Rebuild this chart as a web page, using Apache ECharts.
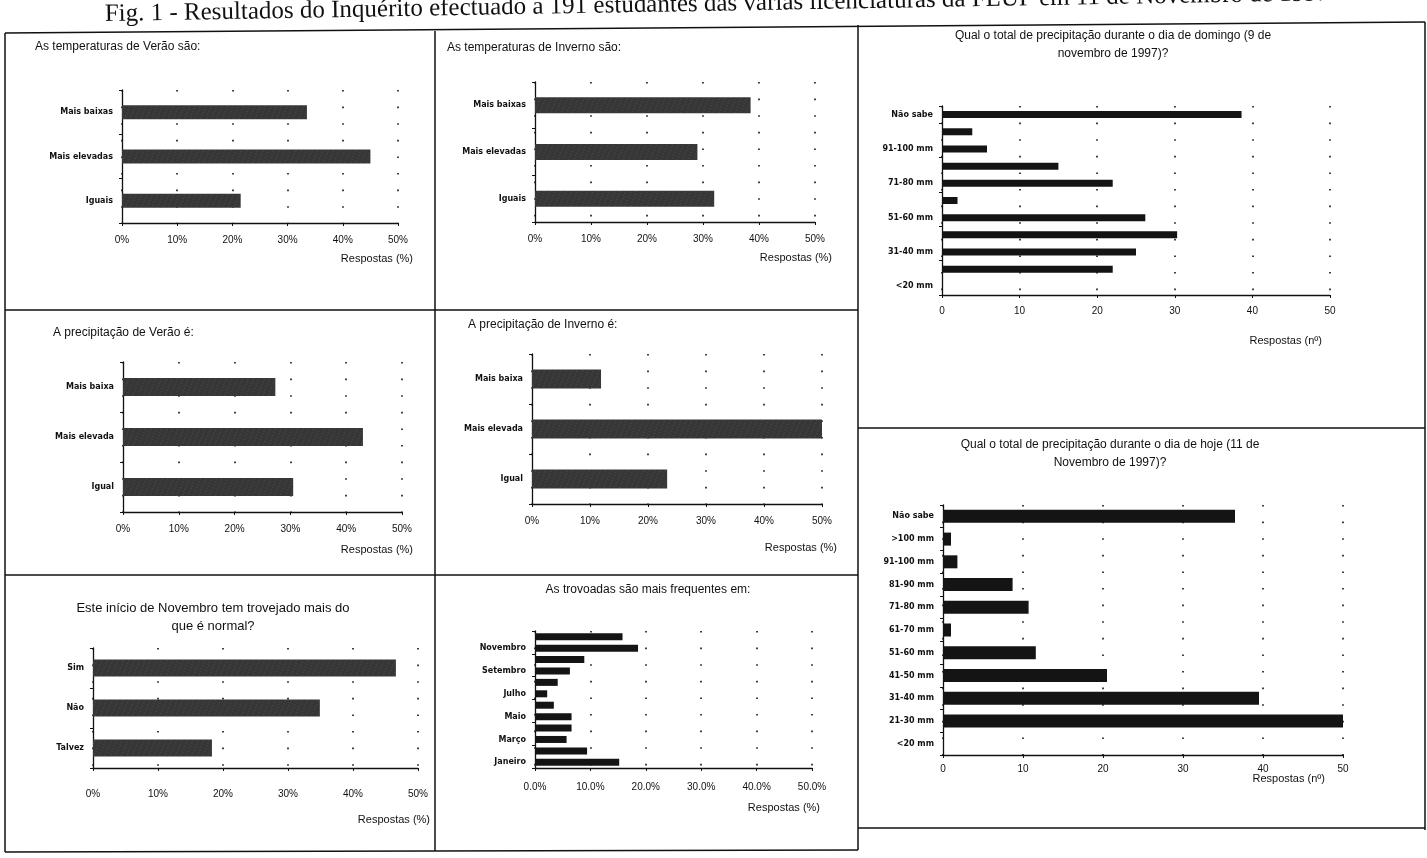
<!DOCTYPE html>
<html lang="pt">
<head>
<meta charset="UTF-8" />
<title>Fig. 1 - Inquérito FLUP</title>
<script src="https://cdn.jsdelivr.net/npm/echarts@6/dist/echarts.min.js"></script>
</head>
<body style="margin:0;background:#fff">
<div id="main" style="width:1427px;height:858px"></div>
<script>
// categories are listed bottom -> top (order of the y axis)
const catTempVerao = ["Iguais", "Mais elevadas", "Mais baixas"];
const valTempVerao = [21.5, 45, 33.5];
const catTempInverno = ["Iguais", "Mais elevadas", "Mais baixas"];
const valTempInverno = [32, 29, 38.5];
const catPrecVerao = ["Igual", "Mais elevada", "Mais baixa"];
const valPrecVerao = [30.5, 43, 27.3];
const catPrecInverno = ["Igual", "Mais elevada", "Mais baixa"];
const valPrecInverno = [23.3, 50, 11.9];
const catTrovejou = ["Talvez", "Não", "Sim"];
const valTrovejou = [18.3, 34.9, 46.6];
const catMeses = ["Janeiro", "Fevereiro", "Março", "Abril", "Maio", "Junho",
  "Julho", "Agosto", "Setembro", "Outubro", "Novembro", "Dezembro"];
const valMeses = [15.2, 9.4, 5.7, 6.6, 6.6, 3.4, 2.2, 4.1, 6.3, 8.9, 18.6, 15.8];
const catPrecip = ["<20 mm", "21-30 mm", "31-40 mm", "41-50 mm", "51-60 mm", "61-70 mm",
  "71-80 mm", "81-90 mm", "91-100 mm", ">100 mm", "Não sabe"];
const valDomingo = [0, 22, 25, 30.3, 26.2, 2, 22, 15, 5.8, 3.9, 38.6];
const valHoje = [0, 50, 39.5, 20.5, 11.6, 1, 10.7, 8.7, 1.8, 1, 36.5];

const mainTitle = "Fig. 1 - Resultados do Inquérito efectuado a 191 estudantes das várias licenciaturas da FLUP em 11 de Novembro de 1997";

const pct = v => v + "%";
const pct1 = v => v.toFixed(1) + "%";
const num = v => String(v);

// one entry per panel: data + where it sits on the page
const panels = [
  { cats: catTempVerao, vals: valTempVerao, box: [122, 90, 276, 133], bw: 14, fmt: pct,
    name: "Respostas (%)", gap: 15, pad: 30, lm: 12, texture: true },
  { cats: catTempInverno, vals: valTempInverno, box: [535, 82, 280, 140], bw: 16, fmt: pct,
    name: "Respostas (%)", gap: 17, pad: 30, lm: 12, texture: true },
  { cats: catPrecip, vals: valDomingo, box: [942, 106, 388, 189], bw: 7, fmt: num,
    name: "Respostas (nº)", gap: -8, pad: 40, lm: 11, every: 1 },
  { cats: catPrecVerao, vals: valPrecVerao, box: [123, 362, 279, 150], bw: 18, fmt: pct,
    name: "Respostas (%)", gap: 11, pad: 32, lm: 12, texture: true },
  { cats: catPrecInverno, vals: valPrecInverno, box: [532, 354, 290, 150], bw: 19, fmt: pct,
    name: "Respostas (%)", gap: 15, pad: 38, lm: 12, texture: true },
  { cats: catPrecip, vals: valHoje, box: [943, 505, 400, 250], bw: 13, fmt: num,
    name: "Respostas (nº)", gap: -18, pad: 18, lm: 9, every: 0 },
  { cats: catTrovejou, vals: valTrovejou, box: [93, 648, 325, 120], bw: 17, fmt: pct,
    name: "Respostas (%)", gap: 12, pad: 46, lm: 21, texture: true },
  { cats: catMeses, vals: valMeses, box: [535, 631, 277, 137], bw: 7, fmt: pct1,
    name: "Respostas (%)", gap: 8, pad: 34, lm: 14, every: 1 }
];

const grids = [], xAxes = [], yAxes = [], series = [];
panels.forEach((p, i) => {
  grids.push({ left: p.box[0], top: p.box[1], width: p.box[2], height: p.box[3] });
  xAxes.push({
    type: "value", gridIndex: i, min: 0, max: 50, interval: 10,
    name: p.name, nameLocation: "end", nameGap: p.gap, nameMoveOverlap: false,
    nameTextStyle: { align: "right", verticalAlign: "top", padding: [p.pad, 0, 0, 0],
      fontSize: 11, color: "#111" },
    axisLine: { show: true, lineStyle: { color: "#111", width: 1.3 } },
    axisTick: { show: true, length: 3, lineStyle: { color: "#111" } },
    axisLabel: { formatter: p.fmt, fontSize: 10, color: "#111", margin: p.lm },
    splitLine: { show: true, lineStyle: { color: "#111", width: 1.6, type: [1.6, 15] } }
  });
  yAxes.push({
    type: "category", gridIndex: i, data: p.cats,
    axisLine: { show: true, lineStyle: { color: "#111", width: 1.3 } },
    axisTick: { show: true, length: 3, lineStyle: { color: "#111" } },
    axisLabel: { fontSize: 8, fontWeight: "bold", fontFamily: "DejaVu Sans", color: "#111",
      margin: 9, interval: p.every === undefined ? 0 : p.every }
  });
  const itemStyle = { color: p.texture ? "#363636" : "#141414" };
  if (p.texture) {
    itemStyle.decal = { symbol: "rect", symbolSize: 0.5, color: "rgba(255,255,255,0.28)",
      dashArrayX: [2, 3], dashArrayY: [1, 2], rotation: 0.4 };
  }
  series.push({
    type: "bar", xAxisIndex: i, yAxisIndex: i, data: p.vals, barWidth: p.bw, silent: true,
    itemStyle: itemStyle
  });
});

const txt = (x, y, text, size, align) => ({
  type: "text", x: x, y: y,
  style: { text: text, font: size + "px 'Liberation Sans'", fill: "#111",
    textAlign: align || "left", textVerticalAlign: "middle" }
});
const line = (x1, y1, x2, y2) => ({
  type: "line", shape: { x1: x1, y1: y1, x2: x2, y2: y2 },
  style: { stroke: "#111", lineWidth: 1.5 }
});

const graphics = [
  { type: "text", x: 105, y: 27, rotation: 0.017,
    style: { text: mainTitle, font: "25px 'Liberation Serif'", fill: "#111",
      textAlign: "left", textVerticalAlign: "bottom" } },
  // frame and panel dividers
  line(5, 33, 1425, 22), line(5, 33, 5, 852), line(1425, 22, 1425, 830),
  line(5, 852, 858, 850), line(858, 828, 1425, 828),
  line(435, 31, 435, 851), line(858, 25, 858, 850),
  line(5, 310, 858, 310), line(5, 575, 858, 575), line(858, 428, 1425, 428),
  // panel titles
  txt(35, 47, "As temperaturas de Verão são:", 12),
  txt(447, 48, "As temperaturas de Inverno são:", 12),
  txt(1113, 36, "Qual o total de precipitação durante o dia de domingo (9 de", 12, "center"),
  txt(1113, 54, "novembro de 1997)?", 12, "center"),
  txt(53, 333, "A precipitação de Verão é:", 12),
  txt(468, 325, "A precipitação de Inverno é:", 12),
  txt(1110, 445, "Qual o total de precipitação durante o dia de hoje (11 de", 12, "center"),
  txt(1110, 463, "Novembro de 1997)?", 12, "center"),
  txt(213, 608, "Este início de Novembro tem trovejado mais do", 13, "center"),
  txt(213, 626, "que é normal?", 13, "center"),
  txt(648, 590, "As trovoadas são mais frequentes em:", 12, "center")
];

const myChart = echarts.init(document.getElementById("main"));
myChart.setOption({
  animation: false,
  backgroundColor: "#fff",
  textStyle: { fontFamily: "Liberation Sans" },
  grid: grids,
  xAxis: xAxes,
  yAxis: yAxes,
  series: series,
  graphic: graphics
});
</script>
</body>
</html>
